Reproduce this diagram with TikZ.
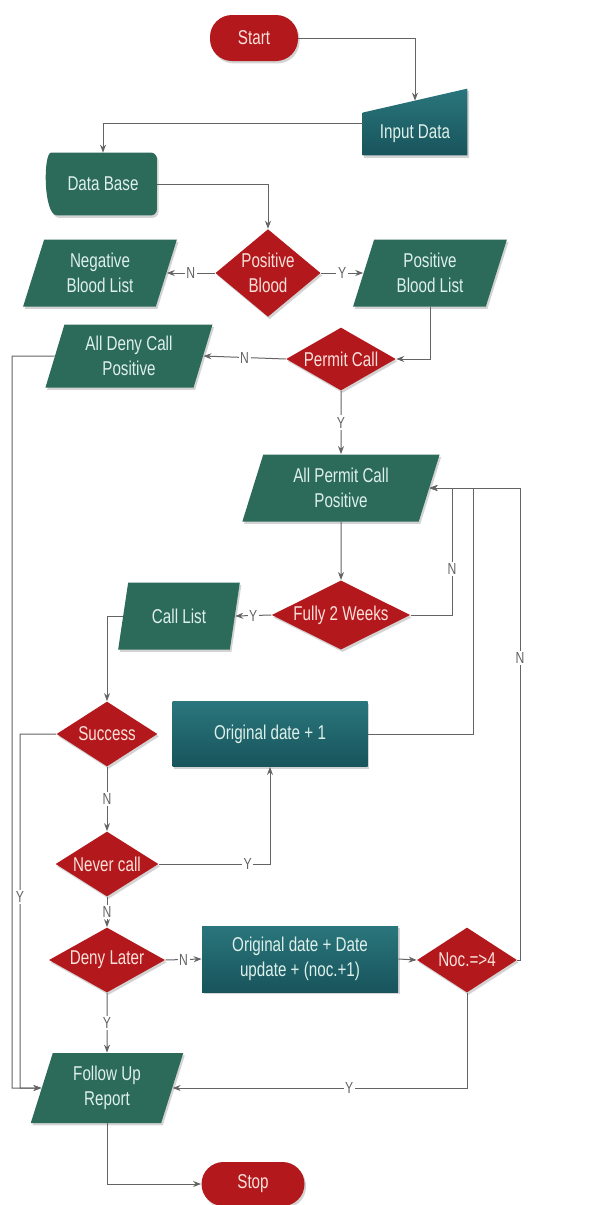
\documentclass[tikz,border=0pt]{standalone}
\usepackage{fontspec}
\setmainfont{Liberation Sans}[FakeStretch=0.76]
\usetikzlibrary{arrows.meta, shapes.geometric, shadows, backgrounds, calc}
\definecolor{termred}{RGB}{178, 24, 28}
\definecolor{termtxt}{RGB}{250, 225, 218}
\definecolor{boxgreen}{RGB}{44, 106, 90}
\definecolor{boxtxt}{RGB}{222, 240, 234}
\definecolor{tealtop}{RGB}{42, 118, 124}
\definecolor{tealbot}{RGB}{24, 84, 92}
\definecolor{wire}{RGB}{100, 100, 100}

\begin{document}
\begin{tikzpicture}[
    x=0.5pt, y=-0.5pt,
    txt/.style   = {font=\fontsize{10}{12.5}\selectfont, align=center},
    shad/.style  = {drop shadow={shadow xshift=0.8pt, shadow yshift=-1.2pt, opacity=0.35}},
    term/.style  = {txt, shad, rectangle, rounded corners=11pt, fill=termred, text=termtxt,
                    minimum height=23pt, inner sep=0pt},
    dec/.style   = {txt, shad, diamond, fill=termred, text=termtxt, inner sep=0.5pt, aspect=2},
    io/.style    = {txt, shad, trapezium, trapezium left angle=73, trapezium right angle=107,
                    trapezium stretches=true, fill=boxgreen, text=boxtxt, inner sep=1pt},
    proc/.style  = {txt, shad, rectangle, top color=tealtop, bottom color=tealbot, text=boxtxt,
                    inner sep=1pt},
    arr/.style   = {-{Stealth[length=4pt, width=3pt]}, color=wire, line width=0.5pt},
    yn/.style    = {fill=white, inner sep=0.8pt, text=wire, font=\fontsize{8}{9}\selectfont},
  ]
    \useasboundingbox (0,0) rectangle (596,1205);

    % ── terminals and data ──
    \node[term, minimum width=44pt]   (start) at (254,38)   {Start};
    \node[txt, text=boxtxt, minimum width=52pt, minimum height=21pt, inner sep=0pt]
                                      (inp)   at (415,134)  {Input Data};
    \node[txt, text=boxtxt, minimum width=53.5pt, minimum height=31pt, inner sep=0pt]
                                      (db)    at (103,184)  {Data Base};
    \begin{scope}[on background layer]
      \path[shad, top color=tealtop, bottom color=tealbot]
        (inp.south west) -- (inp.north west) -- ([yshift=12pt]inp.north east) -- (inp.south east) -- cycle;
      \path[shad, fill=boxgreen, rounded corners=3pt]
        (db.north east) -- ([xshift=4pt]db.north west) [sharp corners]
        .. controls ([xshift=-3pt]db.north west) and ([xshift=-3pt]db.south west) .. ([xshift=4pt]db.south west)
        [rounded corners=3pt] -- (db.south east) -- cycle;
    \end{scope}

    % ── blood lists ──
    \node[dec, aspect=1.2, minimum width=50pt, minimum height=43.5pt] (pb) at (268,273) {Positive\\Blood};
    \node[io, minimum width=77pt, minimum height=33.5pt] (nbl) at (100,273) {Negative\\Blood List};
    \node[io, minimum width=77pt, minimum height=33.5pt] (pbl) at (430,273) {Positive\\Blood List};

    % ── permit ──
    \node[dec, minimum width=51pt, minimum height=31.5pt] (pc)  at (341,359) {Permit Call};
    \node[io, minimum width=84pt, minimum height=31.5pt]  (adc) at (129,356) {All Deny Call\\Positive};
    \node[io, minimum width=99pt, minimum height=33.5pt]  (apc) at (341,488) {All Permit Call\\Positive};
    \node[dec, minimum width=65pt, minimum height=32.5pt] (f2w) at (341,615) {Fully 2 Weeks};
    \node[io, minimum width=61pt, minimum height=33.5pt]  (cl)  at (179,616) {Call List};

    % ── calling ──
    \node[dec, minimum width=50.5pt, minimum height=32.5pt] (sc)  at (107,734) {Success};
    \node[proc, minimum width=97.5pt, minimum height=32.5pt] (od1) at (270,734) {Original date + 1};
    \node[dec, minimum width=50pt, minimum height=32.5pt]   (nc)  at (107,864) {Never call};
    \node[dec, minimum width=50pt, minimum height=32.5pt]   (dl)  at (107,960) {Deny Later};
    \node[proc, minimum width=98pt, minimum height=33pt]    (od2) at (300,959) {Original date + Date\\update + (noc.+1)};
    \node[dec, minimum width=50pt, minimum height=32.5pt]   (noc) at (467,960) {Noc.=>4};

    % ── report ──
    \node[io, minimum width=76.5pt, minimum height=35pt] (fu)   at (107,1088) {Follow Up\\Report};
    \node[term, minimum width=51.5pt, minimum height=22pt] (stop) at (253,1184) {Stop};

    \coordinate (lane1) at (12,1088);
    \coordinate (lane2) at (20,1088);
    \coordinate (back1) at (452,487);
    \coordinate (back2) at (473,487);
    \coordinate (back3) at (520,487);

    % ── connectors ──
    \draw[arr] (start.east) -| ([yshift=6pt]inp.north);
    \draw[arr] ([yshift=5.5pt]inp.west) -| (db.north);
    \draw[arr] (db.east) -| (pb.north);
    \draw[arr] (pb.west) -- node[yn] {N} (nbl.east);
    \draw[arr] (pb.east) -- node[yn] {Y} (pbl.west);
    \draw[arr] (pbl.south) |- (pc.east);
    \draw[arr] (pc.west) -- node[yn] {N} (adc.east);
    \draw[arr] (adc.west) -| (lane1) -- (fu.west);
    \draw[arr] (pc.south) -- node[yn] {Y} (apc.north);
    \draw[arr] (apc.south) -- (f2w.north);
    \draw[arr] (f2w.east) -| node[yn, pos=0.68] {N} (back1 |- apc.east) -- (apc.east);
    \draw[arr] (f2w.west) -- node[yn] {Y} (cl.east);
    \draw[arr] (cl.west) -| (sc.north);
    \draw[arr] (sc.west) -| node[yn, pos=0.73] {Y} (lane2) -- (fu.west);
    \draw[arr] (sc.south) -- node[yn] {N} (nc.north);
    \draw[arr] (od1.east) -| (back2 |- apc.east) -- (apc.east);
    \draw[arr] (nc.east) -| node[yn, pos=0.4] {Y} (od1.south);
    \draw[arr] (nc.south) -- node[yn] {N} (dl.north);
    \draw[arr] (dl.east) -- node[yn] {N} (od2.west);
    \draw[arr] (od2.east) -- (noc.west);
    \draw[arr] (noc.east) -| node[yn, pos=0.82] {N} (back3 |- apc.east) -- (apc.east);
    \draw[arr] (noc.south) |- node[yn, pos=0.7] {Y} (fu.east);
    \draw[arr] (dl.south) -- node[yn] {Y} (fu.north);
    \draw[arr] (fu.south) |- (stop.west);

  \end{tikzpicture}
\end{document}
